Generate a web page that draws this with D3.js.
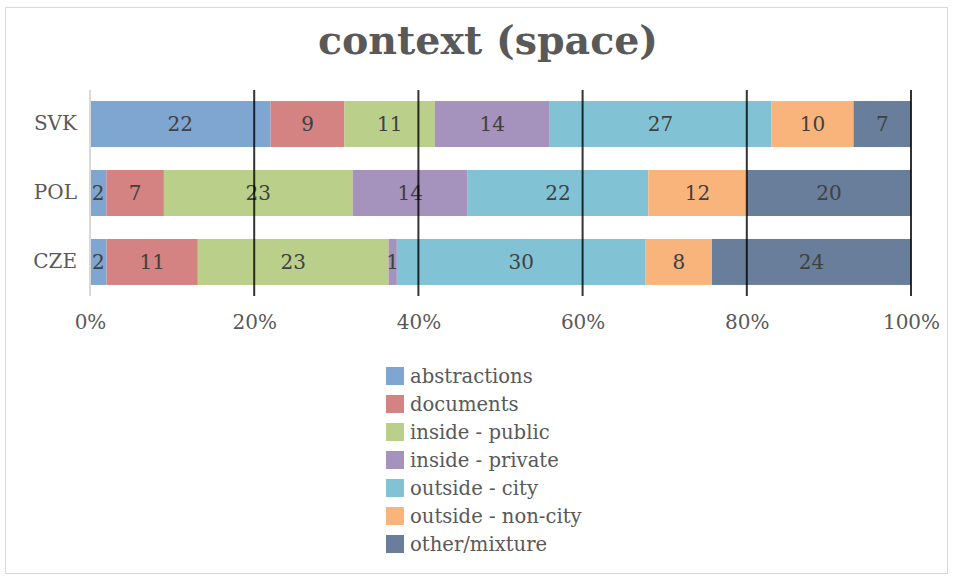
<!DOCTYPE html>
<html>
<head>
<meta charset="utf-8">
<script src="https://cdn.jsdelivr.net/npm/d3@7"></script>
<style>
  html, body { margin: 0; padding: 0; background: #fff; }
  svg { display: block; }
</style>
</head>
<body>
<svg id="chart" width="954" height="578"></svg>
<script>
// Countries (top to bottom) and the context categories stacked in each bar
const countries = ["SVK", "POL", "CZE"];
const categories = ["abstractions", "documents", "inside - public", "inside - private",
                    "outside - city", "outside - non-city", "other/mixture"];
const colors = ["#7fa6d1", "#d48282", "#b9cf8a", "#a592bd", "#81c3d4", "#f9b47c", "#687e9b"];

// Shares per country, in category order
const svkValues = [22, 9, 11, 14, 27, 10, 7];
const polValues = [2, 7, 23, 14, 22, 12, 20];
const czeValues = [2, 11, 23, 1, 30, 8, 24];

const tickValues = [0, 0.2, 0.4, 0.6, 0.8, 1];
const titleText = "context (space)";

const rows = [svkValues, polValues, czeValues].map((vals, i) => {
  const r = { country: countries[i] };
  categories.forEach((c, j) => r[c] = vals[j]);
  return r;
});

const series = d3.stack().keys(categories).offset(d3.stackOffsetExpand)(rows);

const svg = d3.select("#chart");
const FONT = "'DejaVu Serif', serif";

// outer frame
svg.append("rect").attr("x", 5.5).attr("y", 7.5).attr("width", 942).attr("height", 566)
  .attr("fill", "#fff").attr("stroke", "#d9d9d9").attr("stroke-width", 1);

svg.append("text").attr("x", 488).attr("y", 54).attr("text-anchor", "middle")
  .attr("font-family", FONT).attr("font-weight", "bold").attr("font-size", 39.5)
  .attr("fill", "#595959").text(titleText);

const x = d3.scaleLinear().domain([0, 1]).range([90, 911]);
const y = d3.scaleBand().domain(countries).range([90, 296]).paddingInner(0.333).paddingOuter(0.16);

// bars
const g = svg.append("g");
series.forEach((s, i) => {
  g.selectAll(null).data(s).enter().append("rect")
    .attr("x", d => x(d[0]))
    .attr("y", d => y(d.data.country))
    .attr("width", d => x(d[1]) - x(d[0]))
    .attr("height", y.bandwidth())
    .attr("fill", colors[i]);
});

// value labels
series.forEach((s, i) => {
  g.selectAll(null).data(s).enter().append("text")
    .attr("x", d => (x(d[0]) + x(d[1])) / 2)
    .attr("y", d => y(d.data.country) + y.bandwidth() / 2)
    .attr("dy", "0.36em")
    .attr("text-anchor", "middle")
    .attr("font-family", FONT).attr("font-size", 20)
    .attr("fill", "#404040")
    .text(d => d.data[s.key]);
});

// gridlines over the bars
const gridTop = 90, gridBottom = 296;
svg.append("g").selectAll("line").data(tickValues).enter().append("line")
  .attr("x1", d => x(d)).attr("x2", d => x(d))
  .attr("y1", gridTop).attr("y2", gridBottom)
  .attr("stroke", d => d === 0 ? "#d9d9d9" : "#000")
  .attr("stroke-opacity", d => d === 0 ? 1 : 0.8)
  .attr("stroke-width", 2);

// x axis tick labels
const xAxis = d3.axisBottom(x).tickValues(tickValues).tickFormat(d3.format(".0%")).tickSize(0).tickPadding(0);
const xa = svg.append("g").attr("transform", "translate(0,315)").call(xAxis);
xa.select(".domain").remove();
xa.selectAll("text").attr("font-family", FONT).attr("font-size", 20).attr("fill", "#595959");

// y axis category labels
const yAxis = d3.axisLeft(y).tickSize(0).tickPadding(13);
const ya = svg.append("g").attr("transform", "translate(90,0)").call(yAxis);
ya.select(".domain").remove();
ya.selectAll("text").attr("font-family", FONT).attr("font-size", 20).attr("fill", "#595959");

// legend
const legend = svg.append("g");
categories.forEach((c, i) => {
  const ly = 367 + i * 28;
  legend.append("rect").attr("x", 386).attr("y", ly).attr("width", 18).attr("height", 18).attr("fill", colors[i]);
  legend.append("text").attr("x", 410).attr("y", ly + 9).attr("dy", "0.36em")
    .attr("font-family", FONT).attr("font-size", 19.6).attr("fill", "#595959").text(c);
});
</script>
</body>
</html>
